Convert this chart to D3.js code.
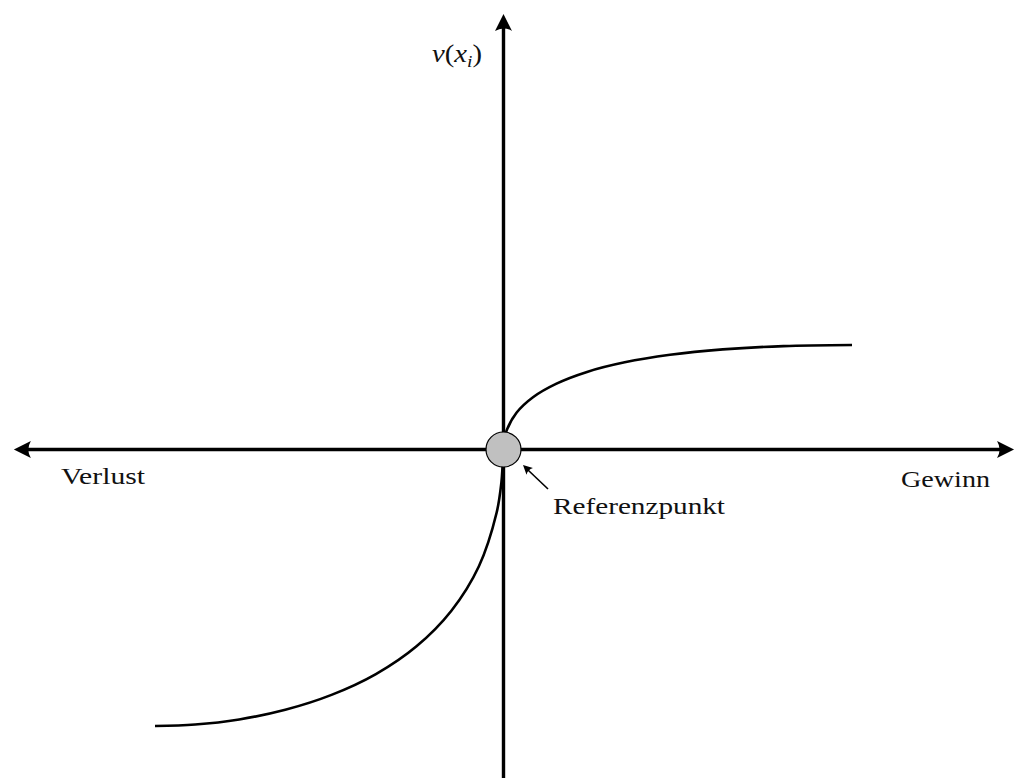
<!DOCTYPE html>
<html>
<head>
<meta charset="utf-8">
<script src="https://cdn.jsdelivr.net/npm/d3@7"></script>
<style>
  html, body { margin: 0; padding: 0; background: #fff; }
  svg { display: block; }
  text { font-family: "Liberation Serif", "Times New Roman", serif; fill: #111; }
</style>
</head>
<body>
<svg id="chart" width="1019" height="778"></svg>
<script>
// ---- data (value function, arbitrary units) ----
const gainX = [0, 0.023, 0.092, 0.373, 0.846, 1.521, 2.396, 3.478, 4.778, 6.293, 8.032, 10];
const gainY = [0, 0.284, 0.554, 1.056, 1.501, 1.891, 2.227, 2.502, 2.717, 2.872, 2.967, 2.999];
const lossX = [-10, -8.849, -7.584, -6.261, -4.935, -3.661, -2.496, -1.495, -0.709, -0.198, -0.06, -0.026, 0];
const lossY = [-7.934, -7.891, -7.745, -7.469, -7.042, -6.445, -5.647, -4.626, -3.357, -1.816, -0.941, -0.473, 0];
const axisXDomain = [-14.05, 14.65];
const axisYDomain = [-9.5, 12.5];
const labels = { yLabel: "v", yIndex: "i", loss: "Verlust", gain: "Gewinn", ref: "Referenzpunkt" };

const svg = d3.select("#chart");
const x = d3.scaleLinear().domain([-10, 10]).range([155, 852]);
const y = d3.scaleLinear().domain([-10, 10]).range([449.5 + 348.5, 449.5 - 348.5]);

const x0 = x(0), y0 = y(0);

// arrowhead shape (stealth-like), tip at origin pointing +x
function arrowHead(tx, ty, angleDeg, size) {
  const s = size || 1;
  const p = `M0,0 L${-17*s},${-8.5*s} Q${-12*s},0 ${-17*s},${8.5*s} Z`;
  svg.append("path")
    .attr("d", p)
    .attr("transform", `translate(${tx},${ty}) rotate(${angleDeg})`)
    .attr("fill", "#000");
}

// axes
const xl = x(axisXDomain[0]), xr = x(axisXDomain[1]);
svg.append("line").attr("x1", xl + 6).attr("x2", xr - 6).attr("y1", y0).attr("y2", y0)
  .attr("stroke", "#000").attr("stroke-width", 3.4);
arrowHead(xl, y0, 180);
arrowHead(xr, y0, 0);

const yt = y(axisYDomain[1]), yb = 778;
svg.append("line").attr("x1", x0).attr("x2", x0).attr("y1", yt + 6).attr("y2", yb + 2)
  .attr("stroke", "#000").attr("stroke-width", 3.4);
arrowHead(x0, yt, -90);

// curves
const line = d3.line().x(d => x(d[0])).y(d => y(d[1])).curve(d3.curveCatmullRom.alpha(0.5));
const gain = gainX.map((v, i) => [v, gainY[i]]);
const loss = lossX.map((v, i) => [v, lossY[i]]);
svg.append("path").attr("d", line(gain)).attr("fill", "none").attr("stroke", "#000").attr("stroke-width", 2.6);
svg.append("path").attr("d", line(loss)).attr("fill", "none").attr("stroke", "#000").attr("stroke-width", 2.6);

// reference point
svg.append("circle").attr("cx", x0).attr("cy", y0).attr("r", 17.5)
  .attr("fill", "#c0c0c0").attr("stroke", "#000").attr("stroke-width", 1.2);

// small arrow to reference point
svg.append("line").attr("x1", 548).attr("y1", 489).attr("x2", 528).attr("y2", 470)
  .attr("stroke", "#000").attr("stroke-width", 1.6);
arrowHead(523, 465, Math.atan2(465 - 489, 523 - 548) * 180 / Math.PI, 0.55);

// labels
function label(tx, ty, len, str) {
  svg.append("text").attr("x", tx).attr("y", ty).attr("font-size", 24)
    .attr("textLength", len).attr("lengthAdjust", "spacingAndGlyphs").text(str);
}
label(61, 484, 84, labels.loss);
label(901, 487, 89, labels.gain);
label(553, 514, 172, labels.ref);

const yl = svg.append("text").attr("x", 432).attr("y", 62).attr("font-size", 25)
  .attr("textLength", 50).attr("lengthAdjust", "spacingAndGlyphs");
yl.append("tspan").attr("font-style", "italic").text(labels.yLabel);
yl.append("tspan").text("(");
yl.append("tspan").attr("font-style", "italic").text("x");
yl.append("tspan").attr("font-style", "italic").attr("font-size", 17).attr("dy", 5).text(labels.yIndex);
yl.append("tspan").attr("dy", -5).text(")");
</script>
</body>
</html>
